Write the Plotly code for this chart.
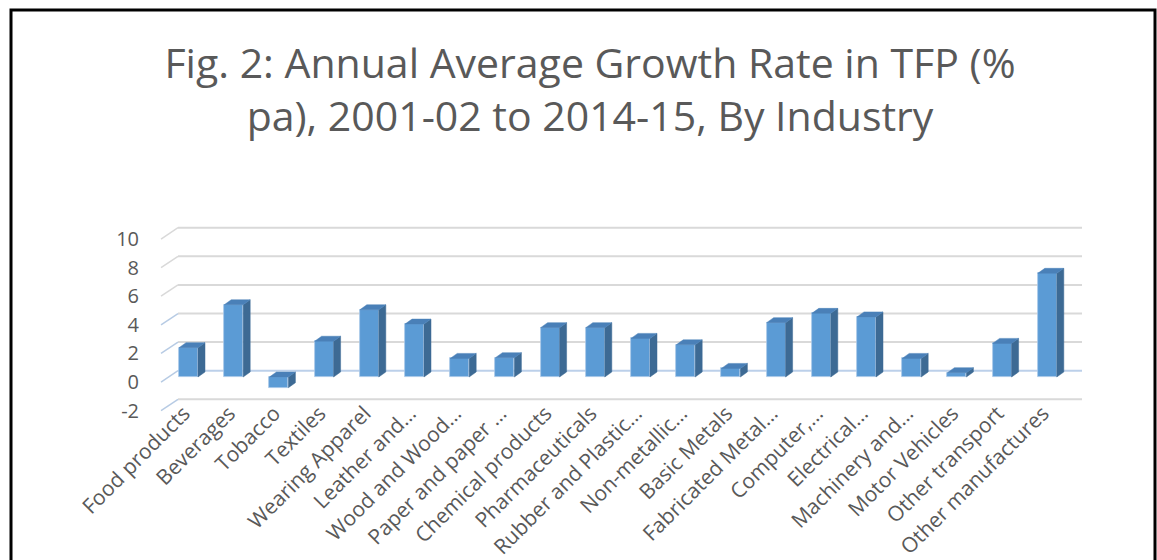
import plotly.graph_objects as go

# Industry labels as shown on the category axis
categories = [
    "Food products", "Beverages", "Tobacco", "Textiles", "Wearing Apparel",
    "Leather and…", "Wood and Wood…", "Paper and paper …", "Chemical products",
    "Pharmaceuticals", "Rubber and Plastic…", "Non-metallic…", "Basic Metals",
    "Fabricated Metal…", "Computer,…", "Electrical…", "Machinery and…",
    "Motor Vehicles", "Other transport", "Other manufactures",
]

# Annual average TFP growth, % per annum
tfp_growth = [
    2.05, 5.05, -0.75, 2.5, 4.7,
    3.7, 1.3, 1.35, 3.45,
    3.45, 2.7, 2.25, 0.6,
    3.8, 4.45, 4.2, 1.3,
    0.3, 2.35, 7.25,
]

y_ticks = [-2, 0, 2, 4, 6, 8, 10]

title_text = "Fig. 2: Annual Average Growth Rate in TFP (%<br>pa), 2001-02 to 2014-15, By Industry"

# ---- figure / pseudo-3D geometry ----
W, H = 1157, 560
L, R, T, B = 150, 1100, 215, 414          # plot area in pixels
LABEL_Y = 400                             # pixel row where category labels hang
SLOT_PX, UNIT_PX = 45.2, 14.3             # pixels per category / per value unit
X0_PX, Y0_PX = 188.5, 377.0               # first bar centre, zero line (front faces)

x_range = [(L - X0_PX) / SLOT_PX, (R - X0_PX) / SLOT_PX]
y_range = [(Y0_PX - B) / UNIT_PX, (Y0_PX - T) / UNIT_PX]

BACK = (0.268, 0.44)        # offset of back wall from bar front faces
WALL_DEPTH = (0.376, 0.79)  # side wall front -> back
FRONT = (BACK[0] - WALL_DEPTH[0], BACK[1] - WALL_DEPTH[1])
BAR_W = 0.42
BAR_D = (0.155, 0.35)       # bar depth projection
LABEL_SHIFT = 0.1           # nudges rotated category labels left

FACE = "#5B9BD5"
SIDE = "#3D6A94"
TOP = "#4A80B8"
GRID = "#D9D9D9"
ZERO = "#BCD0EA"
TEXT = "#595959"
FONT = "Open Sans"

n = len(categories)
idx = list(range(n))


def yp(v):
    """value -> paper fraction, so wall lines may run past the plot edge"""
    return (v - y_range[0]) / (y_range[1] - y_range[0])


fig = go.Figure()

# back wall gridlines and side wall diagonals, kept beneath the columns
wall_left = -0.5 + BACK[0]
wall_right = n - 0.5 + BACK[0]
for t in y_ticks:
    colour = ZERO if t == 0 else GRID
    fig.add_shape(type="line", xref="x", yref="paper", layer="below",
                  x0=wall_left, x1=wall_right, y0=yp(t + BACK[1]), y1=yp(t + BACK[1]),
                  line=dict(color=colour, width=2))
    side_col = GRID if t > 4 else "#B7CBE4"
    fig.add_shape(type="line", xref="x", yref="paper", layer="below",
                  x0=-0.5 + FRONT[0], x1=wall_left, y0=yp(t + FRONT[1]), y1=yp(t + BACK[1]),
                  line=dict(color=side_col, width=1.5))

# front faces of the columns
fig.add_trace(go.Bar(
    x=idx, y=tfp_growth, width=BAR_W,
    marker=dict(color=FACE, line=dict(color="#A9C8E8", width=0.8)),
    showlegend=False, hoverinfo="x+y", cliponaxis=False))

# side and top faces, derived from the same values
sx, sy, tx, ty = [], [], [], []
for i, v in zip(idx, tfp_growth):
    lo, hi = min(0, v), max(0, v)
    xl, xr = i - BAR_W / 2, i + BAR_W / 2
    sx += [xr, xr + BAR_D[0], xr + BAR_D[0], xr, xr, None]
    sy += [lo, lo + BAR_D[1], hi + BAR_D[1], hi, lo, None]
    tx += [xl, xr, xr + BAR_D[0], xl + BAR_D[0], xl, None]
    ty += [hi, hi, hi + BAR_D[1], hi + BAR_D[1], hi, None]

fig.add_trace(go.Scatter(x=sx, y=sy, fill="toself", fillcolor=SIDE, mode="lines",
                         line=dict(color=SIDE, width=0.5), hoverinfo="skip", showlegend=False))
fig.add_trace(go.Scatter(x=tx, y=ty, fill="toself", fillcolor=TOP, mode="lines",
                         line=dict(color=TOP, width=0.5), hoverinfo="skip", showlegend=False))

# empty trace that anchors the category-label axis
fig.add_trace(go.Scatter(x=[None], y=[None], xaxis="x2", yaxis="y", mode="markers",
                         hoverinfo="skip", showlegend=False))


# outer frame (pixel -> paper coordinates)
def px_x(p):
    return (p - L) / (R - L)


def px_y(p):
    return (B - p) / (B - T)


fig.add_shape(type="rect", xref="paper", yref="paper",
              x0=px_x(11), x1=px_x(1155), y0=px_y(575), y1=px_y(10),
              line=dict(color="black", width=3), fillcolor="rgba(0,0,0,0)", layer="above")

fig.update_layout(
    width=W, height=H,
    margin=dict(l=L, r=W - R, t=T, b=H - B, pad=0),
    paper_bgcolor="white", plot_bgcolor="white",
    bargap=0,
    title=dict(text=title_text, x=590 / W, xanchor="center", xref="container",
               y=1 - 78 / H, yanchor="top", yref="container",
               font=dict(family=FONT, size=41, color=TEXT)),
    font=dict(family=FONT, color=TEXT),
    xaxis=dict(range=x_range, showticklabels=False, showgrid=False, zeroline=False,
               showline=False, ticks="", automargin=False),
    xaxis2=dict(range=x_range, overlaying="x", anchor="free", position=px_y(LABEL_Y),
                side="bottom", tickmode="array",
                tickvals=[i - LABEL_SHIFT for i in idx], ticktext=categories,
                tickangle=-45, showgrid=False, zeroline=False, showline=False,
                ticks="", tickfont=dict(size=21, color=TEXT), ticklabelstandoff=-4,
                automargin=False),
    yaxis=dict(range=y_range, tickmode="array",
               tickvals=[t + FRONT[1] for t in y_ticks],
               ticktext=[str(t) for t in y_ticks],
               showgrid=False, zeroline=False, showline=False,
               ticks="outside", ticklen=6, tickcolor="rgba(0,0,0,0)",
               tickfont=dict(size=20, color=TEXT), automargin=False),
)

fig.write_html("out.html")
